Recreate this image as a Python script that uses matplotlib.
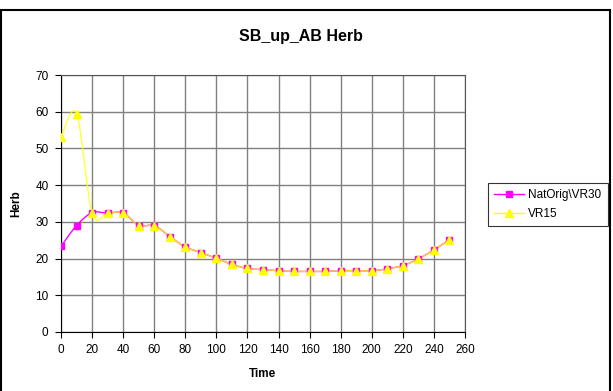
import numpy as np
import matplotlib
matplotlib.use("Agg")
from matplotlib import pyplot as plt
from matplotlib.path import Path
from matplotlib.patches import PathPatch, Rectangle
from matplotlib.lines import Line2D

plt.rcParams["font.family"] = ["Liberation Sans", "DejaVu Sans"]

time = [0, 10, 20, 30, 40, 50, 60, 70, 80, 90, 100, 110, 120, 130, 140,
        150, 160, 170, 180, 190, 200, 210, 220, 230, 240, 250]
nat_orig = [23.3, 29.0, 32.5, 32.4, 32.5, 29.0, 29.0, 26.0, 23.2, 21.6, 20.1,
            18.4, 17.3, 17.0, 16.7, 16.5, 16.5, 16.5, 16.7, 16.7, 16.7, 17.2,
            18.1, 19.9, 22.4, 25.1]
vr15 = [53.0, 59.5, 32.5, 32.4, 32.5, 29.0, 29.0, 26.0, 23.2, 21.6, 20.1,
        18.4, 17.3, 17.0, 16.7, 16.5, 16.5, 16.5, 16.7, 16.7, 16.7, 17.2,
        18.1, 19.9, 22.4, 25.1]


def smooth_path(x, y):
    # excel style smoothed line: cubic bezier segments (catmull-rom tangents)
    p = np.column_stack([x, y]).astype(float)
    n = len(p)
    verts = [p[0]]
    codes = [Path.MOVETO]
    for i in range(n - 1):
        p0 = p[i - 1] if i > 0 else p[i]
        p3 = p[i + 2] if i + 2 < n else p[i + 1]
        c1 = p[i] + (p[i + 1] - p0) / 6.0
        c2 = p[i + 1] - (p3 - p[i]) / 6.0
        verts += [c1, c2, p[i + 1]]
        codes += [Path.CURVE4] * 3
    return Path(verts, codes)


fig = plt.figure(figsize=(6.13, 3.91), dpi=100)
ax = fig.add_axes([0.0995, 0.151, 0.659, 0.657])

ax.add_patch(PathPatch(smooth_path(time, nat_orig), fill=False,
                       edgecolor="#FF00FF", lw=1.0, zorder=3))
ax.add_patch(PathPatch(smooth_path(time, vr15), fill=False,
                       edgecolor="#FFFF00", lw=1.0, zorder=4, alpha=0.8))
ax.plot(time, nat_orig, ls="none", marker="s", ms=5, color="#FF00FF", zorder=5)
ax.plot(time, vr15, ls="none", marker="^", ms=5.5, color="#FFFF00", zorder=6)

ax.set_xlim(0, 260)
ax.set_ylim(0, 70)
ax.set_xticks(range(0, 261, 20))
ax.set_yticks(range(0, 71, 10))
ax.grid(True, color="#808080", lw=1)
ax.set_axisbelow(True)
ax.tick_params(direction="out", length=4, labelsize=8.5, color="black", pad=5)
for side in ["left", "bottom"]:
    ax.spines[side].set_color("black")
for side in ["right", "top"]:
    ax.spines[side].set_color("#555555")

fig.text(0.491, 1 - 36 / 391, "SB_up_AB Herb", fontsize=11.5,
         fontweight="bold", ha="center", va="center")
ax.set_xlabel("Time", fontsize=8.5, fontweight="bold", labelpad=8)
ax.set_ylabel("Herb", fontsize=8.5, fontweight="bold", labelpad=9)

# legend sits outside the plot area, to the right
handles = [
    Line2D([], [], color="#FF00FF", lw=1, marker="s", ms=5),
    Line2D([], [], color="#FFFF00", lw=1, marker="^", ms=5.5),
]
leg = fig.legend(handles, ["NatOrig\\VR30", "VR15"], loc="upper left",
                 bbox_to_anchor=(488 / 613, 1 - 183 / 391), fontsize=8.5,
                 frameon=True, fancybox=False, edgecolor="black",
                 borderpad=0.55, handlelength=2.5, handletextpad=0.35,
                 labelspacing=0.55, borderaxespad=0)
leg.get_frame().set_linewidth(0.8)

# outer chart-area border
fig.patches.append(Rectangle((1 / 613, -0.05), 609 / 613, 1.05 - 10 / 391,
                             transform=fig.transFigure, fill=False,
                             edgecolor="black", lw=1.5))

fig.savefig("out.png", dpi=100)
